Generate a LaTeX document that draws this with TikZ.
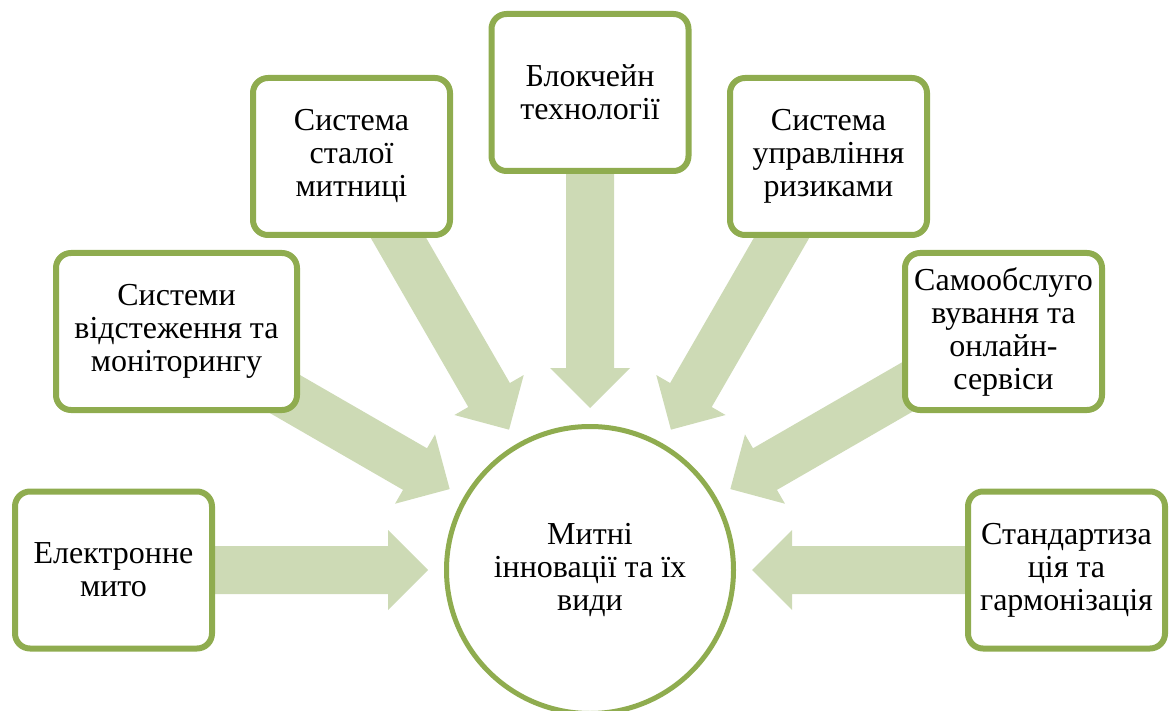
\documentclass[tikz,border=0pt]{standalone}
\usepackage{fontspec}
\setmainfont{Liberation Serif}
\usetikzlibrary{calc}
\pgfdeclarelayer{background}
\pgfsetlayers{background,main}
\definecolor{bordergreen}{HTML}{8FAC4F}
\definecolor{arrowgreen}{HTML}{CDDAB5}
\tikzset{
  itembox/.style={draw=bordergreen, line width=6pt, fill=white, rounded corners=15pt,
    minimum width=197pt, minimum height=157pt, align=center, inner sep=2pt,
    font=\fontsize{32}{33}\selectfont},
  hubcircle/.style={draw=bordergreen, line width=5pt, fill=white, circle,
    minimum size=287pt, align=center, inner sep=0pt,
    font=\fontsize{32}{33}\selectfont},
  arrowfill/.style={fill=arrowgreen}
}
\newcommand\blockarr[1]{%
  \fill[arrowfill] ($(m)!162pt!(#1)$)
    -- ($(m)!202pt!(#1)!40pt!90:(#1)$)
    -- ($(m)!202pt!(#1)!24pt!90:(#1)$)
    -- ($(#1)!24pt!-90:(m)$)
    -- ($(#1)!24pt!90:(m)$)
    -- ($(m)!202pt!(#1)!24pt!-90:(#1)$)
    -- ($(m)!202pt!(#1)!40pt!-90:(#1)$) -- cycle;}
\begin{document}
\begin{tikzpicture}[x=1pt,y=-1pt]
\useasboundingbox (0,0) rectangle (1170,711);
\node[hubcircle] (m) at (590,570) {Митні\\інновації та їх\\види};
\node[itembox] (b1) at (113.5,570) {Електронне\\мито};
\node[itembox, minimum width=241pt] (b2) at (176.5,331.5) {Системи\\відстеження та\\моніторингу};
\node[itembox] (b3) at (351.5,156.5) {Система\\сталої\\митниці};
\node[itembox] (b4) at (590,92.5) {Блокчейн\\технології};
\node[itembox] (b5) at (828.5,156.5) {Система\\управління\\ризиками};
\node[itembox] (b6) at (1003.5,331.5) {Самообслуго\\вування та\\онлайн-\\сервіси};
\node[itembox] (b7) at (1066.5,570) {Стандартиза\\ція та\\гармонізація};
\begin{pgfonlayer}{background}
\blockarr{b1}
\blockarr{b2}
\blockarr{b3}
\blockarr{b4}
\blockarr{b5}
\blockarr{b6}
\blockarr{b7}
\end{pgfonlayer}
\end{tikzpicture}
\end{document}
